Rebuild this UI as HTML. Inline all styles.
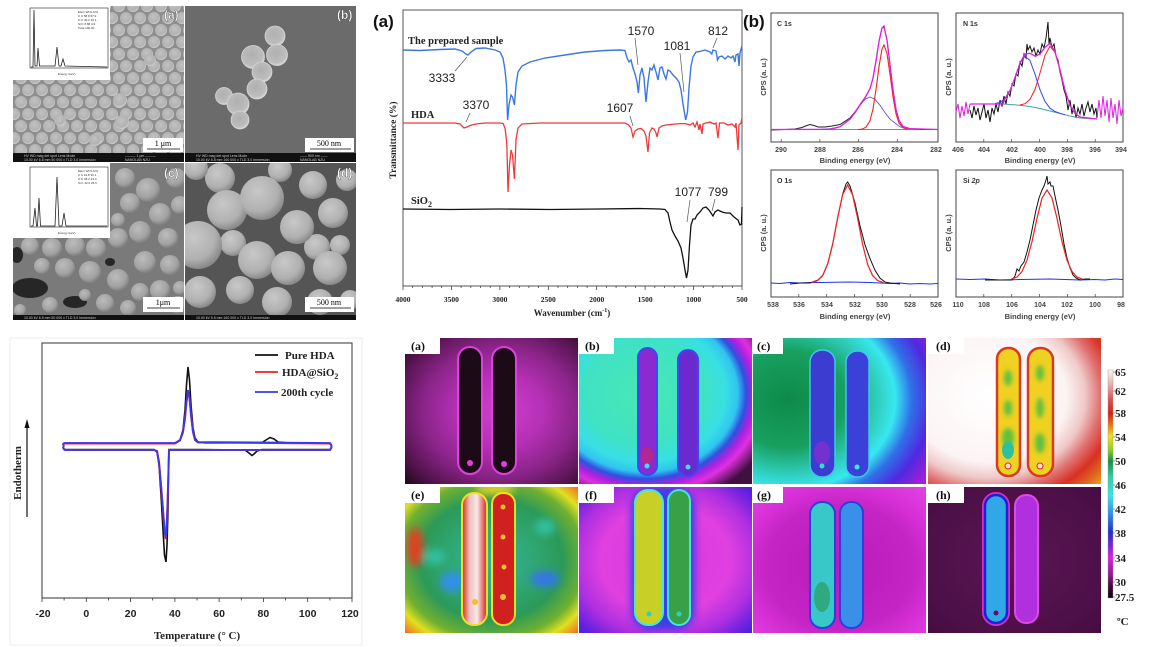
<!DOCTYPE html>
<html><head><meta charset="utf-8">
<style>
html,body{margin:0;padding:0;background:#fff;}
svg{display:block;}
.sf{font-family:"Liberation Serif",serif;font-weight:bold;}
.ss{font-family:"Liberation Sans",sans-serif;}
</style></head>
<body>
<svg width="1167" height="647" viewBox="0 0 1167 647" xmlns="http://www.w3.org/2000/svg">
<defs>
  <radialGradient id="sphA" cx="0.45" cy="0.4" r="0.6">
    <stop offset="0" stop-color="#c2c2c2"/><stop offset="0.75" stop-color="#b2b2b2"/><stop offset="1" stop-color="#d0d0d0"/>
  </radialGradient>
  <radialGradient id="sphB" cx="0.45" cy="0.4" r="0.6">
    <stop offset="0" stop-color="#b0b0b0"/><stop offset="0.8" stop-color="#bdbdbd"/><stop offset="1" stop-color="#dcdcdc"/>
  </radialGradient>
  <radialGradient id="sphC" cx="0.4" cy="0.35" r="0.65">
    <stop offset="0" stop-color="#bcbcbc"/><stop offset="0.7" stop-color="#a2a2a2"/><stop offset="1" stop-color="#808080"/>
  </radialGradient>
  <radialGradient id="sphD" cx="0.4" cy="0.35" r="0.65">
    <stop offset="0" stop-color="#c8c8c8"/><stop offset="0.7" stop-color="#b0b0b0"/><stop offset="1" stop-color="#8a8a8a"/>
  </radialGradient>
  <pattern id="pa" width="14" height="24" patternUnits="userSpaceOnUse">
    <rect width="14" height="24" fill="#8e8e8e"/>
    <circle cx="7" cy="6" r="6" fill="url(#sphA)"/>
    <circle cx="0" cy="18" r="6" fill="url(#sphA)"/>
    <circle cx="14" cy="18" r="6" fill="url(#sphA)"/>
  </pattern>
  <linearGradient id="cbar" x1="0" y1="0" x2="0" y2="1">
    <stop offset="0" stop-color="#fff4f4"/><stop offset="0.06" stop-color="#f0b0b0"/><stop offset="0.13" stop-color="#e05050"/>
    <stop offset="0.19" stop-color="#d82010"/><stop offset="0.24" stop-color="#f07010"/><stop offset="0.29" stop-color="#f0e020"/>
    <stop offset="0.35" stop-color="#90d020"/><stop offset="0.40" stop-color="#109040"/><stop offset="0.47" stop-color="#30d0a0"/>
    <stop offset="0.55" stop-color="#30e8f0"/><stop offset="0.63" stop-color="#3090f0"/><stop offset="0.71" stop-color="#2030d0"/>
    <stop offset="0.77" stop-color="#8020e0"/><stop offset="0.82" stop-color="#e020e0"/><stop offset="0.9" stop-color="#901890"/>
    <stop offset="0.95" stop-color="#400838"/><stop offset="1" stop-color="#100008"/>
  </linearGradient>
  <radialGradient id="ga" cx="0.55" cy="0.5" r="0.72">
    <stop offset="0" stop-color="#d040d0"/><stop offset="0.35" stop-color="#b430b4"/><stop offset="0.62" stop-color="#8a2488"/>
    <stop offset="0.85" stop-color="#561450"/><stop offset="1" stop-color="#2a0a22"/>
  </radialGradient>
  <radialGradient id="gb" cx="0.38" cy="0.38" r="0.78">
    <stop offset="0" stop-color="#48e8b4"/><stop offset="0.45" stop-color="#40e2c4"/><stop offset="0.6" stop-color="#38e0e4"/>
    <stop offset="0.69" stop-color="#30c4f0"/><stop offset="0.75" stop-color="#3050e0"/><stop offset="0.81" stop-color="#b020e0"/>
    <stop offset="0.87" stop-color="#e030e0"/><stop offset="1" stop-color="#401040"/>
  </radialGradient>
  <radialGradient id="gc" cx="0.2" cy="0.42" r="0.95">
    <stop offset="0" stop-color="#0e8a48"/><stop offset="0.35" stop-color="#18a060"/><stop offset="0.55" stop-color="#30d0c0"/>
    <stop offset="0.65" stop-color="#38e8f0"/><stop offset="0.75" stop-color="#3070e8"/><stop offset="0.87" stop-color="#5028e0"/>
    <stop offset="1" stop-color="#a020d8"/>
  </radialGradient>
  <radialGradient id="gd" cx="0.35" cy="0.4" r="0.9">
    <stop offset="0" stop-color="#ffffff"/><stop offset="0.5" stop-color="#fcf4f4"/><stop offset="0.62" stop-color="#f0c8c8"/>
    <stop offset="0.72" stop-color="#e07070"/><stop offset="0.82" stop-color="#d83020"/><stop offset="0.92" stop-color="#e07020"/>
    <stop offset="1" stop-color="#f0b020"/>
  </radialGradient>
  <radialGradient id="ge" cx="0.5" cy="0.5" r="0.75">
    <stop offset="0" stop-color="#30b098"/><stop offset="0.3" stop-color="#30a878"/><stop offset="0.55" stop-color="#2c9a58"/>
    <stop offset="0.72" stop-color="#70b030"/><stop offset="0.82" stop-color="#e0e020"/><stop offset="0.92" stop-color="#f08020"/>
    <stop offset="1" stop-color="#e02020"/>
  </radialGradient>
  <radialGradient id="gf" cx="0.5" cy="0.5" r="0.75">
    <stop offset="0" stop-color="#d838e0"/><stop offset="0.5" stop-color="#e040e0"/><stop offset="0.7" stop-color="#b030e0"/>
    <stop offset="0.88" stop-color="#6020e0"/><stop offset="1" stop-color="#3820c8"/>
  </radialGradient>
  <radialGradient id="gg" cx="0.5" cy="0.55" r="0.7">
    <stop offset="0" stop-color="#b81cb8"/><stop offset="0.6" stop-color="#c424c4"/><stop offset="0.8" stop-color="#d830d8"/>
    <stop offset="1" stop-color="#e040e0"/>
  </radialGradient>
  <radialGradient id="gh" cx="0.5" cy="0.5" r="0.7">
    <stop offset="0" stop-color="#5a1656"/><stop offset="0.7" stop-color="#4e1048"/><stop offset="1" stop-color="#460c42"/>
  </radialGradient>
  <linearGradient id="barE" x1="0" y1="0" x2="1" y2="0">
    <stop offset="0" stop-color="#d82020"/><stop offset="0.3" stop-color="#f0c0c0"/><stop offset="0.6" stop-color="#f8e8e8"/><stop offset="1" stop-color="#d82020"/>
  </linearGradient>
  <filter id="blur2"><feGaussianBlur stdDeviation="2"/></filter>
  <filter id="blur4"><feGaussianBlur stdDeviation="4"/></filter>
  <clipPath id="tp"><rect width="173" height="146"/></clipPath>
  <clipPath id="semc"><rect x="13" y="163" width="171" height="152"/></clipPath>
  <clipPath id="semd"><rect x="185" y="163" width="171" height="152"/></clipPath>
</defs>

<rect width="1167" height="647" fill="#fff"/>

<!-- ================= SEM ================= -->
<!-- (a) -->
<rect x="13" y="6" width="171" height="147" fill="url(#pa)"/>
<g fill="url(#sphA)">
  <circle cx="120" cy="100" r="7"/><circle cx="60" cy="120" r="6"/><circle cx="150" cy="60" r="6"/>
  <circle cx="122" cy="122" r="7"/><circle cx="95" cy="140" r="6"/>
</g>
<rect x="13" y="6" width="97" height="74" fill="#fff"/>
<g stroke="#222" stroke-width="0.6" fill="none">
  <rect x="30" y="8" width="78" height="60"/>
  <path d="M31,67 L33,67 L34,10 L35,66 L37,66 L38,48 L39.5,66 L55,66 L57,47 L59,66 L61,66 L63,59 L65,66 L107,67" stroke-width="0.8"/>
</g>
<g class="ss" font-size="3" fill="#333">
  <text x="78" y="13">Elem Wt% At%</text><text x="78" y="17">C K 58.8 67.9</text><text x="78" y="21">O K 30.2 26.1</text>
  <text x="78" y="25">Si K 8.88 4.9</text><text x="78" y="29">Total 100.00</text>
  <text x="58" y="75">Energy (keV)</text>
</g>
<!-- (b) -->
<rect x="185" y="6" width="171" height="147" fill="#6b6b6b"/>
<g fill="url(#sphB)" stroke="#d4d4d4" stroke-width="0.8">
  <circle cx="275" cy="36" r="10"/><circle cx="253" cy="57" r="11.5"/><circle cx="277" cy="55" r="10.5"/>
  <circle cx="262" cy="72" r="10"/><circle cx="257" cy="89" r="10"/><circle cx="224" cy="96" r="8.5"/>
  <circle cx="238" cy="104" r="11"/><circle cx="240" cy="120" r="9"/>
</g>
<!-- (c) -->
<g clip-path="url(#semc)">
<rect x="13" y="163" width="171" height="152" fill="#7a7a7a"/>
<g fill="#262626">
  <ellipse cx="30" cy="288" rx="18" ry="10"/><ellipse cx="75" cy="302" rx="12" ry="6"/>
  <ellipse cx="17" cy="255" rx="6" ry="8"/><ellipse cx="110" cy="262" rx="5" ry="4"/>
</g>
<g fill="url(#sphC)">
  <circle cx="125" cy="178" r="10"/><circle cx="148" cy="190" r="12"/><circle cx="176" cy="178" r="10"/>
  <circle cx="130" cy="203" r="10"/><circle cx="160" cy="214" r="11"/><circle cx="180" cy="205" r="9"/>
  <circle cx="140" cy="232" r="11"/><circle cx="118" cy="238" r="10"/><circle cx="168" cy="238" r="10"/>
  <circle cx="96" cy="248" r="10"/><circle cx="75" cy="246" r="10"/><circle cx="52" cy="248" r="10"/>
  <circle cx="30" cy="246" r="9"/><circle cx="65" cy="268" r="10"/><circle cx="42" cy="266" r="8"/>
  <circle cx="90" cy="272" r="11"/><circle cx="118" cy="280" r="11"/><circle cx="145" cy="262" r="11"/>
  <circle cx="170" cy="265" r="10"/><circle cx="160" cy="290" r="10"/><circle cx="140" cy="292" r="9"/>
  <circle cx="105" cy="303" r="9"/><circle cx="50" cy="305" r="8"/><circle cx="20" cy="310" r="6"/>
  <circle cx="178" cy="305" r="9"/><circle cx="128" cy="308" r="8"/><circle cx="118" cy="220" r="7"/>
  <circle cx="85" cy="295" r="6"/><circle cx="180" cy="288" r="7"/>
</g>
</g>
<rect x="13" y="163" width="97" height="75" fill="#fff"/>
<g stroke="#222" stroke-width="0.6" fill="none">
  <rect x="30" y="167" width="78" height="60"/>
  <path d="M31,226 L33,226 L35,208 L36.5,226 L37.5,226 L39,198 L40.5,226 L55,226 L57,177 L59,226 L62,226 L64,213 L66,226 L107,226" stroke-width="0.8"/>
</g>
<g class="ss" font-size="3" fill="#333">
  <text x="78" y="172">Elem Wt% At%</text><text x="78" y="176">C K 19.8 30.1</text><text x="78" y="180">O K 38.2 43.4</text>
  <text x="78" y="184">Si K 42.0 26.5</text><text x="58" y="234">Energy (keV)</text>
</g>
<!-- (d) -->
<g clip-path="url(#semd)">
<rect x="185" y="163" width="171" height="152" fill="#555"/>
<g fill="url(#sphD)">
  <circle cx="220" cy="178" r="15"/><circle cx="313" cy="185" r="14"/><circle cx="347" cy="180" r="11"/>
  <circle cx="196" cy="168" r="12"/><circle cx="280" cy="170" r="12"/>
  <circle cx="233" cy="243" r="13"/><circle cx="317" cy="247" r="13"/>
  <circle cx="227" cy="210" r="20"/><circle cx="262" cy="198" r="22"/><circle cx="333" cy="213" r="15"/>
  <circle cx="297" cy="227" r="17"/><circle cx="198" cy="245" r="24"/><circle cx="340" cy="245" r="10"/>
  <circle cx="330" cy="268" r="17"/><circle cx="200" cy="292" r="16"/><circle cx="240" cy="290" r="14"/>
  <circle cx="277" cy="302" r="15"/><circle cx="320" cy="302" r="13"/><circle cx="350" cy="300" r="10"/>
  <circle cx="257" cy="260" r="19"/><circle cx="288" cy="268" r="17"/>
</g>
</g>
<!-- info bars -->
<rect x="13" y="153" width="343" height="9" fill="#111"/>
<rect x="13" y="315" width="343" height="5" fill="#111"/>
<g class="ss" font-size="3.5" fill="#ccc">
  <text x="24" y="157">HV   WD   mag   det  spot  Lens Mode</text><text x="24" y="161">10.00 kV 6.8 mm 50 000 x TLD 3.0 Immersion</text>
  <text x="125" y="157">——— 1 μm ———</text><text x="125" y="161">NANOLAB NZU</text>
  <text x="196" y="157">HV   WD   mag   det  spot  Lens Mode</text><text x="196" y="161">10.00 kV 5.8 mm 160 000 x TLD 3.0 Immersion</text>
  <text x="300" y="157">—— 500 nm ——</text><text x="300" y="161">NANOLAB NZU</text>
  <text x="24" y="319">10.00 kV 6.5 mm 50 000 x TLD 3.0 Immersion</text>
  <text x="196" y="319">10.00 kV 5.5 mm 160 000 x TLD 3.0 Immersion</text>
</g>
<line x1="184.5" y1="6" x2="184.5" y2="320" stroke="#fff" stroke-width="1"/>
<line x1="13" y1="162.5" x2="356" y2="162.5" stroke="#fff" stroke-width="1"/>
<!-- scale boxes -->
<g fill="#fff">
  <rect x="143" y="138" width="40" height="14"/><rect x="305" y="138" width="49" height="14"/>
  <rect x="143" y="297" width="40" height="15"/><rect x="305" y="297" width="49" height="15"/>
</g>
<g class="sf" font-size="8" fill="#000" text-anchor="middle" style="font-weight:normal">
  <text x="163" y="146">1 μm</text><text x="329" y="146">500 nm</text>
  <text x="163" y="305">1μm</text><text x="329" y="305">500 nm</text>
</g>
<g stroke="#000" stroke-width="0.8">
  <line x1="147" y1="149" x2="180" y2="149"/><line x1="310" y1="149" x2="351" y2="149"/>
  <line x1="147" y1="308" x2="180" y2="308"/><line x1="310" y1="308" x2="351" y2="308"/>
</g>
<g class="ss" font-weight="bold" font-size="12" fill="#fff" stroke="#333" stroke-width="0.3">
  <text x="164" y="19">(a)</text><text x="337" y="19">(b)</text>
  <text x="164" y="177">(c)</text><text x="337" y="177">(d)</text>
</g>

<!-- ================= FTIR ================= -->
<rect x="403" y="10" width="339" height="276" fill="none" stroke="#555" stroke-width="1"/>
<g stroke="#333" stroke-width="0.7">
  <path d="M403,286v4M451.4,286v4M499.9,286v4M548.3,286v4M596.7,286v4M645.1,286v4M693.6,286v4M742,286v4"/>
  <path d="M412.7,286v2M422.4,286v2M432.1,286v2M441.7,286v2M461.1,286v2M470.8,286v2M480.5,286v2M490.2,286v2M509.6,286v2M519.3,286v2M528.9,286v2M538.6,286v2M558,286v2M567.7,286v2M577.4,286v2M587.1,286v2M606.4,286v2M616.1,286v2M625.8,286v2M635.5,286v2M654.8,286v2M664.5,286v2M674.2,286v2M683.9,286v2M703.3,286v2M713,286v2M722.6,286v2M732.3,286v2"/>
</g>
<g class="sf" font-size="7.5" fill="#222" text-anchor="middle">
  <text x="403" y="302">4000</text><text x="451.4" y="302">3500</text><text x="499.9" y="302">3000</text><text x="548.3" y="302">2500</text>
  <text x="596.7" y="302">2000</text><text x="645.1" y="302">1500</text><text x="693.6" y="302">1000</text><text x="742" y="302">500</text>
</g>
<text class="sf" x="572" y="316" font-size="9" text-anchor="middle" fill="#222">Wavenumber (cm<tspan font-size="6" dy="-4">-1</tspan><tspan dy="4">)</tspan></text>
<text class="sf" font-size="9.5" fill="#222" text-anchor="middle" transform="translate(396,140) rotate(-90)">Transmittance (%)</text>
<text class="ss" x="373" y="27" font-size="17" font-weight="bold" fill="#111">(a)</text>
<text class="ss" x="743" y="27" font-size="17" font-weight="bold" fill="#111">(b)</text>

<polyline fill="none" stroke="#3a78e0" stroke-width="1.4" points="403,50 420,50.5 440,49.5 455,49 462,51 466,54 468,55 471,52 476,48.5 485,48 495,50 500,52 503,58 505,70 506.5,85 507.6,120 509,105 511,95 512.5,97 514.4,105 516,85 518,72 522,66 530,62 545,58 565,55 585,52 605,50.5 620,50 625,50.5 627,58 629,62 631,60 633,68 635,74 637,82 638.4,93 640,75 642,68 644,78 646,102 648,82 650,68 652,70 654,65 656,72 658,80 660,68 662,67 664,74 666,79 668,70 670,71 673,75 676,78 679,82 681,90 683,104 685.7,120 687.5,112 689,88 691,66 693,57 696,52 700,51.5 705,50 710,52 711.8,54 713,50 716,51 717.5,60 719,57 722,56 725,59 728,56 731,58 733,56 735,62 736,55 738,54 739,66 740,53 742,46"/>
<polyline fill="none" stroke="#ee3a3a" stroke-width="1.3" points="403,123 430,123 455,123 460,124 464,128 467,127 470,125.5 476,124 485,123 500,123 503,123.5 505,128 506.5,140 507,150 508,192 509.5,165 511,150 512.5,155 514.4,179 516,140 518,128 522,124 540,123 600,123 625,123 628,124.5 631,128 633,137 635,131 638,129 641,128.5 644,131 646,136 648,152 649.5,133 652,128 654,129 656,133 657,137 659,128 662,126 666,125 675,124 685,123.5 690,125 693,123 695,127 697,122 699,130 700,124 702,134 703,124 706,123 710,122 714,124 716,123 718,138 719.5,123 724,123 728,125 732,124 735,127 736,123 738,150 739,125 741,123 742,118"/>
<polyline fill="none" stroke="#111" stroke-width="1.3" points="403,209 450,209.5 500,209 550,209.5 600,209 640,208.5 660,209 665,209.5 668,213 670,222 672,230 675,236 678,241 681,248 683,258 685,270 686.5,278 688,270 689.5,245 691,225 693,219 695,219 697,215 700,212 703,208 706,207 709,210 711,213 713,216 715,212 718,210 722,212 726,213 730,213 734,217 738,220 740,225 741.5,224 742,207"/>

<g class="sf" font-size="10.5" fill="#222">
  <text x="408" y="44">The prepared sample</text>
  <text x="411" y="118">HDA</text>
  <text x="411" y="204">SiO<tspan font-size="8" dy="3">2</tspan></text>
</g>
<g class="ss" font-size="12" fill="#222" text-anchor="middle">
  <text x="442" y="82">3333</text><text x="476" y="109">3370</text><text x="641" y="35">1570</text>
  <text x="677" y="50">1081</text><text x="718" y="35">812</text><text x="620" y="112">1607</text>
  <text x="688" y="196">1077</text><text x="718" y="196">799</text>
</g>
<g stroke="#555" stroke-width="0.7">
  <line x1="455" y1="71" x2="467" y2="57"/><line x1="470" y1="113" x2="466" y2="122"/>
  <line x1="635" y1="38" x2="638" y2="65"/><line x1="680" y1="53" x2="684" y2="92"/>
  <line x1="717" y1="38" x2="713" y2="48"/><line x1="630" y1="116" x2="633" y2="126"/>
  <line x1="690" y1="200" x2="687" y2="222"/><line x1="715" y1="199" x2="712" y2="211"/>
</g>

<!-- ================= XPS ================= -->
<g fill="none" stroke="#444" stroke-width="1">
  <rect x="771" y="13" width="167" height="129"/><rect x="956" y="13" width="167" height="129"/>
  <rect x="771" y="170" width="167" height="127"/><rect x="956" y="170" width="167" height="127"/>
</g>
<g stroke="#444" stroke-width="0.7">
  <path d="M781.2,142v-3M819.9,142v-3M858.6,142v-3M897.3,142v-3M938,142v-3"/>
  <path d="M956,142v-3M983.8,142v-3M1011.7,142v-3M1039.5,142v-3M1067.4,142v-3M1095.2,142v-3M1123,142v-3"/>
  <path d="M771,297v-3M798.8,297v-3M826.7,297v-3M854.5,297v-3M882.3,297v-3M910.2,297v-3M938,297v-3"/>
  <path d="M956,297v-3M983.8,297v-3M1011.7,297v-3M1039.5,297v-3M1067.4,297v-3M1095.2,297v-3M1123,297v-3"/>
</g>
<g class="ss" font-weight="bold" font-size="7" fill="#444" text-anchor="middle">
  <text x="781" y="152">290</text><text x="820" y="152">288</text><text x="858" y="152">286</text><text x="897" y="152">284</text><text x="936" y="152">282</text>
  <text x="958" y="152">406</text><text x="984" y="152">404</text><text x="1012" y="152">402</text><text x="1040" y="152">400</text><text x="1067" y="152">398</text><text x="1095" y="152">396</text><text x="1121" y="152">394</text>
  <text x="773" y="307">538</text><text x="799" y="307">536</text><text x="827" y="307">534</text><text x="855" y="307">532</text><text x="882" y="307">530</text><text x="910" y="307">528</text><text x="936" y="307">526</text>
  <text x="958" y="307">110</text><text x="984" y="307">108</text><text x="1012" y="307">106</text><text x="1040" y="307">104</text><text x="1067" y="307">102</text><text x="1095" y="307">100</text><text x="1121" y="307">98</text>
  <text x="855" y="163" font-size="7.5">Binding energy (eV)</text><text x="1040" y="163" font-size="7.5">Binding energy (eV)</text>
  <text x="855" y="319" font-size="7.5">Binding energy (eV)</text><text x="1040" y="319" font-size="7.5">Binding energy (eV)</text>
  <text transform="translate(766,77) rotate(-90)" font-size="7.5">CPS (a. u.)</text>
  <text transform="translate(951,77) rotate(-90)" font-size="7.5">CPS (a. u.)</text>
  <text transform="translate(766,233) rotate(-90)" font-size="7.5">CPS (a. u.)</text>
  <text transform="translate(951,233) rotate(-90)" font-size="7.5">CPS (a. u.)</text>
</g>
<g class="ss" font-weight="bold" font-size="7" fill="#333">
  <text x="777" y="26">C 1s</text><text x="963" y="26">N 1s</text><text x="777" y="183">O 1s</text>
  <text x="963" y="183">Si <tspan font-style="italic">2p</tspan></text>
</g>
<!-- C1s -->
<line x1="771" y1="129.5" x2="938" y2="129.5" stroke="#3aa8a0" stroke-width="1"/>
<polyline fill="none" stroke="#222" stroke-width="1" points="771,130 785,129.5 795,129 802,127.5 807,125.5 810,124.5 814,125.5 818,127 825,127 832,126 840,124.5 850,118 855,112 860,104.5 865,97.5 870,88.7 873,78 876,61 879,41.4 882,28 884,26 887,40 890,64.4 893,90 896,109.4 899,120.4 903,126.5 910,128.7 920,129.5 938,129.5"/>
<polyline fill="none" stroke="#5a5af0" stroke-width="0.9" points="820,129.3 830,128.7 840,126.8 850,119.2 855,112.6 860,105.2 865,99.3 870,97 875,99.3 880,105.2 885,112.6 890,119.2 900,126.8 910,128.7 920,129.4"/>
<polyline fill="none" stroke="#f02020" stroke-width="1.1" points="858,129.5 862,129.2 866,127.2 870,120.7 873,109 876,89.6 879,66.6 882,49 884,45 887,53.5 890,74.2 893,96.8 896,113.7 899,123.1 903,127.8 908,129.5"/>
<polyline fill="none" stroke="#e020e0" stroke-width="1.3" points="771,129.5 830,129.3 840,126.8 850,119.2 855,112.6 860,105 865,98 870,88.7 873,78 876,61 879,41.4 882,28 884,27 887,40 890,64.4 893,90 896,109.4 899,120.4 903,126.5 910,128.7 938,129.5"/>
<!-- N1s -->
<polyline fill="none" stroke="#e020e0" stroke-width="1" points="956,112 958,104 960,118 962,106 964,116 966,102 968,114 970,104"/>
<polyline fill="none" stroke="#e020e0" stroke-width="1" points="1097,118 1099,100 1101,118 1103,96 1105,116 1107,100 1109,122 1111,98 1113,118 1115,104 1117,124 1119,100 1121,116 1123,108"/>
<polyline fill="none" stroke="#111" stroke-width="1" points="970,110 972,118 974,106 976,115 978,108 980,120 982,112 984,104 986,118 988,110 990,122 992,108 994,114 996,104 998,112 1000,100 1002,106 1004,96 1006,104 1008,92 1010,96 1012,84 1014,86 1016,74 1018,76 1020,62 1022,66 1024,54 1026,58 1027,44 1028,50 1030,46 1032,52 1034,48 1036,56 1038,50 1040,54 1042,44 1044,48 1046,38 1047,30 1048,22 1049,44 1050,38 1052,48 1054,44 1056,56 1058,60 1060,72 1062,80 1064,90 1066,96 1068,110 1070,100 1072,114 1074,104 1076,118 1078,108 1080,114 1082,104 1084,116 1086,108 1088,102 1090,112 1092,104 1094,114 1096,108 1097,118"/>
<polyline fill="none" stroke="#3aa8a0" stroke-width="1" points="1003,104 1010,104.5 1020,105.3 1030,106.5 1040,108.5 1050,111 1060,113.5 1070,116 1080,118 1097,119"/>
<polyline fill="none" stroke="#4040f0" stroke-width="1" points="995,103.6 1000,102.3 1005,98.6 1010,90.6 1015,77.6 1020,63.5 1025,56.1 1030,60.5 1035,74.2 1040,89.7 1045,101.5 1050,108.2 1055,111.5 1060,113.3 1065,114.7"/>
<polyline fill="none" stroke="#f02020" stroke-width="1" points="1020,105 1025,103.7 1030,99.3 1035,89.4 1040,73 1045,55.4 1050,46.3 1055,52.4 1060,70 1065,90.3 1070,105.3 1075,113.4 1080,117 1085,118"/>
<polyline fill="none" stroke="#e020e0" stroke-width="1.3" points="970,104 1003,104 1005,98.6 1010,90.6 1015,77.5 1020,63 1025,54 1030,53.3 1035,56.1 1040,54.2 1045,47.2 1050,43.5 1055,51.7 1060,69.8 1065,90.3 1070,105.3 1075,113.4 1080,117 1097,119"/>
<!-- O1s -->
<polyline fill="none" stroke="#2030f0" stroke-width="1" points="771,283 780,283.5 790,282.5 800,283 810,282.5 820,282.5 850,282 870,282.5 880,283 890,283.5 900,283 910,284 920,283.5 930,284 938,283.5"/>
<polyline fill="none" stroke="#111" stroke-width="1" points="790,284 800,283 810,283 818,280 823,275 828,263 833,243 838,216 843,193 846,184 847.6,182 850,186 853,196 855,203 860,225.7 865,244.8 870,258.6 875,270.3 880,278.2 885,282 890,283 900,284"/>
<polyline fill="none" stroke="#f02020" stroke-width="1.2" points="811.6,282.7 817.6,280.6 822.6,275.6 827.6,264.3 832.6,244.3 837.6,218.3 842.6,194.8 847.6,185 852.6,194.8 857.6,218.3 862.6,244.3 867.6,264.3 872.6,275.6 877.6,280.6 883.6,282.7"/>
<!-- Si2p -->
<polyline fill="none" stroke="#2030f0" stroke-width="1" points="956,279 970,279.5 985,279 1000,280 1020,279.5 1050,279 1080,280 1095,279.5 1105,280 1115,279 1123,279.5"/>
<polyline fill="none" stroke="#111" stroke-width="1" points="985,280 1000,280 1012,280 1015,276 1017,269 1019,271 1021,266 1024,262 1027,252 1030,240 1033,225 1036,210 1039,198 1042,190 1044,186 1046,180 1047,176 1048,184 1050,182 1051,186 1053,186 1055,196 1058,210 1061,226 1064,244 1067,258 1070,268 1073,275 1076,278 1080,280 1085,279 1090,279"/>
<polyline fill="none" stroke="#f02020" stroke-width="1.2" points="1011,279.3 1017,277 1022,271.5 1027,260.2 1032,241.6 1037,218.4 1042,198.1 1047,190 1052,198.1 1057,218.4 1062,241.6 1067,260.2 1072,271.5 1077,277 1083,279.3"/>

<!-- ================= DSC ================= -->
<rect x="10" y="338" width="352" height="307" fill="none" stroke="#eee" stroke-width="1"/>
<rect x="42" y="343" width="310" height="255" fill="none" stroke="#333" stroke-width="1"/>
<g stroke="#333" stroke-width="0.8">
  <path d="M42,598v4M86.3,598v4M130.6,598v4M174.9,598v4M219.1,598v4M263.4,598v4M307.7,598v4M352,598v4"/>
  <path d="M64.1,598v2.5M108.4,598v2.5M152.7,598v2.5M197,598v2.5M241.3,598v2.5M285.6,598v2.5M329.9,598v2.5"/>
</g>
<g class="ss" font-weight="bold" font-size="10.5" fill="#222" text-anchor="middle">
  <text x="43" y="617">-20</text><text x="86.3" y="617">0</text><text x="130.6" y="617">20</text><text x="174.9" y="617">40</text>
  <text x="219.1" y="617">60</text><text x="263.4" y="617">80</text><text x="307.7" y="617">100</text><text x="350" y="617">120</text>
</g>
<text class="sf" x="197" y="639" font-size="11" text-anchor="middle" fill="#222">Temperature (° C)</text>
<text class="sf" font-size="11" text-anchor="middle" fill="#222" transform="translate(21,473) rotate(-90)">Endotherm</text>
<line x1="27" y1="517" x2="27" y2="426" stroke="#111" stroke-width="1.2"/>
<path d="M24.5,428 L27,419 L29.5,428 Z" fill="#111"/>
<path fill="none" stroke="#111" stroke-width="1.6" d="M64,446 Q62,443.5 65,443 L150,443.5 L175,443 L180,440 L183,430 L185,410 L186.5,385 L188,367 L189.5,380 L191,405 L193,428 L195,438 L198,442 L205,443 L262,442.5 L266,440 L270,437.5 L274,439 L278,442 L290,443 L330,443.5 Q333,446.5 330,449.5 L262,449.5 L257,451 L254,454 L252,455.5 L249,453 L245,450 L200,449.5 L169,449.5 L168.5,470 L168,510 L167,545 L166,562 L164.5,555 L163,530 L161,495 L159,465 L157,452 L154,449.5 L65,449.5 Q62,448 64,446"/>
<path fill="none" stroke="#f02020" stroke-width="2" d="M64,446.5 Q62,443.5 65,443.5 L175,443.5 L180,440.5 L183,432 L185,418 L186.5,402 L188,391 L189.5,398 L191,415 L193,432 L195,440 L198,442.5 L330,443.5 Q333,446.5 330,450 L169,450 L168.5,470 L167.5,505 L166.5,530 L165.8,539 L164.5,530 L163,510 L161,485 L159,462 L157,451 L154,450 L65,450 Q62,448 64,446.5"/>
<path fill="none" stroke="#3838f0" stroke-width="1.8" d="M64,446 Q62,443 65,443 L175,443 L180,440 L183,432 L185,418 L186.5,402 L188,390 L189.5,398 L191,415 L193,432 L195,440 L198,442 L330,443 Q333,446.5 330,450 L169,450 L168.5,470 L167.5,505 L166.5,530 L165.8,538 L164.5,530 L163,510 L161,485 L159,462 L157,451 L154,450 L65,450 Q62,448 64,446"/>
<g stroke-width="1.8">
  <line x1="255" y1="355" x2="278" y2="355" stroke="#111"/>
  <line x1="255" y1="372" x2="278" y2="372" stroke="#f02020"/>
  <line x1="255" y1="392" x2="278" y2="392" stroke="#3838f0"/>
</g>
<g class="sf" font-size="11" fill="#222">
  <text x="285" y="359">Pure HDA</text>
  <text x="282" y="376">HDA@SiO<tspan font-size="8" dy="3">2</tspan></text>
  <text x="281" y="396">200th cycle</text>
</g>

<!-- ================= THERMAL ================= -->
<!-- (a) -->
<g transform="translate(405,338)">
  <g clip-path="url(#tp)">
  <rect width="173" height="146" fill="url(#ga)"/>
  <rect x="53" y="9" width="24" height="127" rx="12" fill="#1c0a16" stroke="#e040e0" stroke-width="2"/>
  <rect x="87" y="9" width="24" height="127" rx="12" fill="#1c0a16" stroke="#e040e0" stroke-width="2"/>
  <circle cx="65" cy="125" r="3" fill="#e040e0"/><circle cx="99" cy="126" r="3" fill="#e040e0"/>
  </g>
  <rect width="35" height="16" fill="#fff"/>
  <text class="sf" x="6" y="12" font-size="12" fill="#111">(a)</text>
</g>
<!-- (b) -->
<g transform="translate(579,338)">
  <g clip-path="url(#tp)">
  <rect width="173" height="146" fill="url(#gb)"/>
  <rect x="59" y="10" width="19" height="127" rx="9.5" fill="#8a2ad0" stroke="#3a48f0" stroke-width="2"/>
  <rect x="99" y="12" width="20" height="126" rx="10" fill="#6a2ad0" stroke="#3a48f0" stroke-width="2"/>
  <ellipse cx="68" cy="118" rx="6" ry="9" fill="#b02890"/>
  <circle cx="68" cy="128" r="2.5" fill="#40e0f0"/><circle cx="109" cy="129" r="2.5" fill="#40e0f0"/>
  </g>
  <rect width="35" height="16" fill="#fff"/>
  <text class="sf" x="6" y="12" font-size="12" fill="#111">(b)</text>
</g>
<!-- (c) -->
<g transform="translate(753,338)">
  <g clip-path="url(#tp)">
  <rect width="174" height="146" fill="url(#gc)"/>
  <rect x="57" y="12" width="25" height="127" rx="12" fill="#3c3cd0" stroke="#3cc8f0" stroke-width="1.5"/>
  <rect x="93" y="13" width="23" height="126" rx="11" fill="#3a40d8" stroke="#3cc8f0" stroke-width="1.5"/>
  <ellipse cx="69" cy="115" rx="8" ry="12" fill="#8030d0" opacity="0.8"/>
  <circle cx="69" cy="128" r="2.5" fill="#30e0c0"/><circle cx="104" cy="129" r="2.5" fill="#40e8f0"/>
  </g>
  <rect width="30" height="16" fill="#fff"/>
  <text class="sf" x="4" y="12" font-size="12" fill="#111">(c)</text>
</g>
<!-- (d) -->
<g transform="translate(928,338)">
  <g clip-path="url(#tp)">
  <rect width="173" height="146" fill="url(#gd)"/>
  <rect x="69" y="10" width="23" height="128" rx="11" fill="#f0d020" stroke="#d83a20" stroke-width="2.5"/>
  <rect x="100" y="10" width="25" height="128" rx="12" fill="#f0d020" stroke="#d83a20" stroke-width="2.5"/>
  <g fill="#60c040" filter="url(#blur2)">
    <ellipse cx="80" cy="40" rx="4" ry="8"/><ellipse cx="80" cy="70" rx="4" ry="8"/><ellipse cx="80" cy="100" rx="6" ry="10"/>
    <ellipse cx="112" cy="35" rx="4" ry="8"/><ellipse cx="112" cy="70" rx="4" ry="10"/><ellipse cx="112" cy="105" rx="5" ry="10"/>
  </g>
  <ellipse cx="80" cy="112" rx="6" ry="9" fill="#30c0a0"/>
  <circle cx="80" cy="128" r="3" fill="#f8d8d8" stroke="#d03020"/><circle cx="112" cy="128" r="3" fill="#f8d8d8" stroke="#d03020"/>
  </g>
  <rect width="36" height="16" fill="#fff"/>
  <text class="sf" x="8" y="12" font-size="12" fill="#111">(d)</text>
</g>
<!-- (e) -->
<g transform="translate(405,487)">
  <g clip-path="url(#tp)">
  <rect width="173" height="146" fill="url(#ge)"/>
  <g filter="url(#blur4)">
    <ellipse cx="47" cy="95" rx="12" ry="10" fill="#3090e8"/>
    <ellipse cx="140" cy="92" rx="15" ry="8" fill="#3078e8"/>
    <ellipse cx="30" cy="70" rx="10" ry="8" fill="#30c0a0"/>
    <ellipse cx="140" cy="40" rx="10" ry="8" fill="#30c0a0"/>
    <ellipse cx="10" cy="60" rx="8" ry="20" fill="#e04020"/>
    <ellipse cx="90" cy="2" rx="20" ry="6" fill="#e0d020"/>
  </g>
  <rect x="57" y="6" width="25" height="132" rx="12" fill="url(#barE)" stroke="#f0e020" stroke-width="2"/>
  <rect x="87" y="6" width="23" height="132" rx="11" fill="#d02020" stroke="#f0e020" stroke-width="2"/>
  <g fill="#f0c030"><circle cx="98" cy="20" r="2.5"/><circle cx="98" cy="50" r="2.5"/><circle cx="99" cy="80" r="2.5"/><circle cx="98" cy="110" r="3"/><circle cx="70" cy="115" r="3"/></g>
  </g>
  <rect width="35" height="16" fill="#fff"/>
  <text class="sf" x="6" y="12" font-size="12" fill="#111">(e)</text>
</g>
<!-- (f) -->
<g transform="translate(579,487)">
  <g clip-path="url(#tp)">
  <rect width="173" height="146" fill="url(#gf)"/>
  <rect x="52" y="0" width="64" height="143" rx="20" fill="#2040e8" filter="url(#blur4)" opacity="0.85"/>
  <rect x="56" y="3" width="28" height="135" rx="13" fill="#c8d028" stroke="#40e8e0" stroke-width="2"/>
  <rect x="89" y="3" width="22" height="135" rx="11" fill="#3aa048" stroke="#40e8e0" stroke-width="2"/>
  <circle cx="70" cy="127" r="2.5" fill="#30d0c0"/><circle cx="100" cy="127" r="2.5" fill="#30d0c0"/>
  </g>
  <rect width="35" height="16" fill="#fff"/>
  <text class="sf" x="6" y="12" font-size="12" fill="#111">(f)</text>
</g>
<!-- (g) -->
<g transform="translate(753,487)">
  <g clip-path="url(#tp)">
  <rect width="174" height="146" fill="url(#gg)"/>
  <rect x="57" y="15" width="25" height="126" rx="12" fill="#38c8c8" stroke="#2840e0" stroke-width="2"/>
  <ellipse cx="69" cy="110" rx="8" ry="15" fill="#30a880"/>
  <rect x="87" y="15" width="23" height="126" rx="11" fill="#3a90e8" stroke="#2840e0" stroke-width="2"/>
  </g>
  <rect width="30" height="16" fill="#fff"/>
  <text class="sf" x="4" y="12" font-size="12" fill="#111">(g)</text>
</g>
<!-- (h) -->
<g transform="translate(928,487)">
  <g clip-path="url(#tp)">
  <rect width="173" height="146" fill="url(#gh)"/>
  <rect x="55" y="6" width="26" height="132" rx="13" fill="none" stroke="#d030d0" stroke-width="2"/>
  <rect x="57" y="8" width="22" height="128" rx="11" fill="#30a8e8" stroke="#2020d0" stroke-width="2.5"/>
  <rect x="87" y="8" width="23" height="128" rx="11" fill="#b030e0" stroke="#e048e8" stroke-width="2"/>
  <circle cx="68" cy="126" r="2.5" fill="#601060"/>
  </g>
  <rect width="36" height="16" fill="#fff"/>
  <text class="sf" x="8" y="12" font-size="12" fill="#111">(h)</text>
</g>
<!-- colorbar -->
<rect x="1108" y="370" width="5" height="228" fill="url(#cbar)" stroke="#999" stroke-width="0.4"/>
<g stroke="#333" stroke-width="0.6">
  <path d="M1113,372h2M1113,391h2M1113,413h2M1113,437h2M1113,461h2M1113,485h2M1113,509h2M1113,533h2M1113,558h2M1113,582h2M1113,597h2"/>
</g>
<g class="sf" font-size="11" fill="#222">
  <text x="1115" y="376">65</text><text x="1115" y="395">62</text><text x="1115" y="417">58</text><text x="1115" y="441">54</text>
  <text x="1115" y="465">50</text><text x="1115" y="489">46</text><text x="1115" y="513">42</text><text x="1115" y="537">38</text>
  <text x="1115" y="562">34</text><text x="1115" y="586">30</text><text x="1115" y="601">27.5</text><text x="1117" y="625">ºC</text>
</g>
</svg>
</body></html>
